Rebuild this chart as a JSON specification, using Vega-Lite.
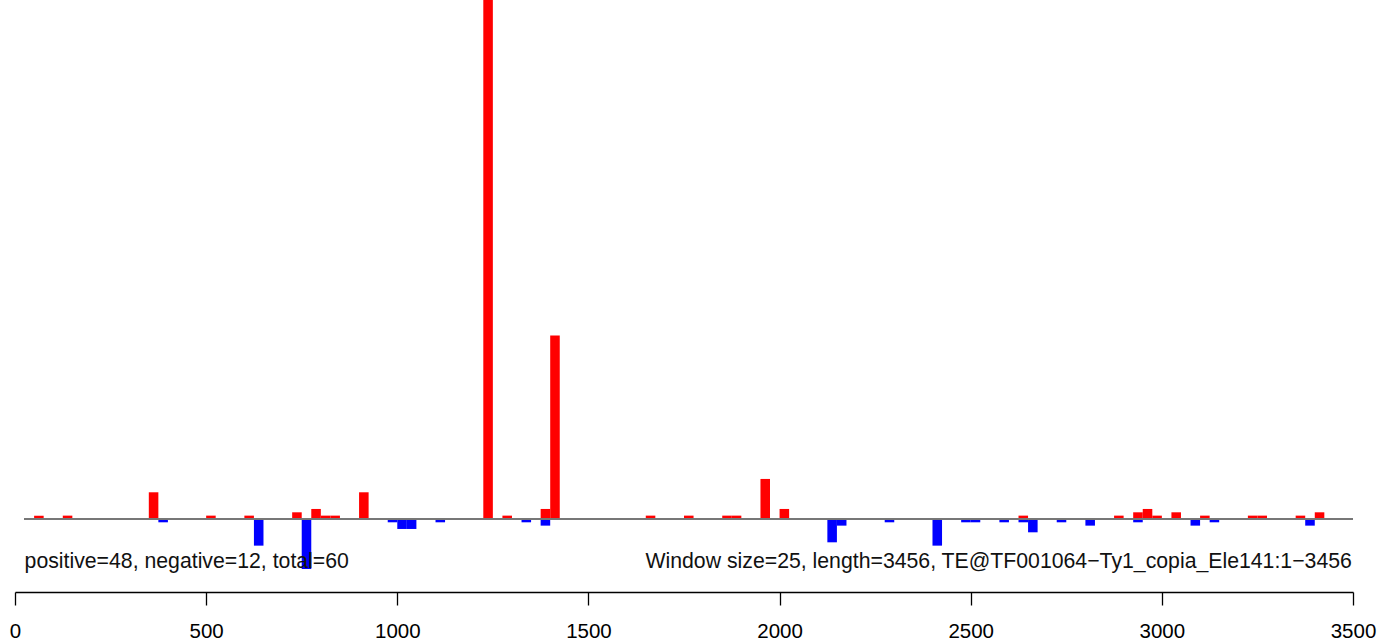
{
  "$schema": "https://vega.github.io/schema/vega-lite/v6.json",
  "width": 1338,
  "height": 579,
  "autosize": {"type": "none"},
  "padding": {"left": 15, "top": 0, "right": 26, "bottom": 61},
  "background": "white",
  "config": {
    "view": {"stroke": null},
    "font": "Liberation Sans"
  },
  "datasets": {
    "bars": [
      {"start": 50, "end": 75, "count": 1, "strand": "+"},
      {"start": 125, "end": 150, "count": 1, "strand": "+"},
      {"start": 350, "end": 375, "count": 8, "strand": "+"},
      {"start": 500, "end": 525, "count": 1, "strand": "+"},
      {"start": 600, "end": 625, "count": 1, "strand": "+"},
      {"start": 725, "end": 750, "count": 2, "strand": "+"},
      {"start": 775, "end": 800, "count": 3, "strand": "+"},
      {"start": 800, "end": 825, "count": 1, "strand": "+"},
      {"start": 825, "end": 850, "count": 1, "strand": "+"},
      {"start": 900, "end": 925, "count": 8, "strand": "+"},
      {"start": 1225, "end": 1250, "count": 156, "strand": "+"},
      {"start": 1275, "end": 1300, "count": 1, "strand": "+"},
      {"start": 1375, "end": 1400, "count": 3, "strand": "+"},
      {"start": 1400, "end": 1425, "count": 55, "strand": "+"},
      {"start": 1650, "end": 1675, "count": 1, "strand": "+"},
      {"start": 1750, "end": 1775, "count": 1, "strand": "+"},
      {"start": 1850, "end": 1875, "count": 1, "strand": "+"},
      {"start": 1875, "end": 1900, "count": 1, "strand": "+"},
      {"start": 1950, "end": 1975, "count": 12, "strand": "+"},
      {"start": 2000, "end": 2025, "count": 3, "strand": "+"},
      {"start": 2625, "end": 2650, "count": 1, "strand": "+"},
      {"start": 2875, "end": 2900, "count": 1, "strand": "+"},
      {"start": 2925, "end": 2950, "count": 2, "strand": "+"},
      {"start": 2950, "end": 2975, "count": 3, "strand": "+"},
      {"start": 2975, "end": 3000, "count": 1, "strand": "+"},
      {"start": 3025, "end": 3050, "count": 2, "strand": "+"},
      {"start": 3100, "end": 3125, "count": 1, "strand": "+"},
      {"start": 3225, "end": 3250, "count": 1, "strand": "+"},
      {"start": 3250, "end": 3275, "count": 1, "strand": "+"},
      {"start": 3350, "end": 3375, "count": 1, "strand": "+"},
      {"start": 3400, "end": 3425, "count": 2, "strand": "+"},
      {"start": 375, "end": 400, "count": -1, "strand": "-"},
      {"start": 625, "end": 650, "count": -8, "strand": "-"},
      {"start": 750, "end": 775, "count": -15, "strand": "-"},
      {"start": 975, "end": 1000, "count": -1, "strand": "-"},
      {"start": 1000, "end": 1025, "count": -3, "strand": "-"},
      {"start": 1025, "end": 1050, "count": -3, "strand": "-"},
      {"start": 1100, "end": 1125, "count": -1, "strand": "-"},
      {"start": 1325, "end": 1350, "count": -1, "strand": "-"},
      {"start": 1375, "end": 1400, "count": -2, "strand": "-"},
      {"start": 2125, "end": 2150, "count": -7, "strand": "-"},
      {"start": 2150, "end": 2175, "count": -2, "strand": "-"},
      {"start": 2275, "end": 2300, "count": -1, "strand": "-"},
      {"start": 2400, "end": 2425, "count": -8, "strand": "-"},
      {"start": 2475, "end": 2500, "count": -1, "strand": "-"},
      {"start": 2500, "end": 2525, "count": -1, "strand": "-"},
      {"start": 2575, "end": 2600, "count": -1, "strand": "-"},
      {"start": 2625, "end": 2650, "count": -1, "strand": "-"},
      {"start": 2650, "end": 2675, "count": -4, "strand": "-"},
      {"start": 2725, "end": 2750, "count": -1, "strand": "-"},
      {"start": 2800, "end": 2825, "count": -2, "strand": "-"},
      {"start": 2925, "end": 2950, "count": -1, "strand": "-"},
      {"start": 3075, "end": 3100, "count": -2, "strand": "-"},
      {"start": 3125, "end": 3150, "count": -1, "strand": "-"},
      {"start": 3375, "end": 3400, "count": -2, "strand": "-"}
    ],
    "notes": [
      {"side": "left", "text": "positive=48, negative=12, total=60"},
      {"side": "right", "text": "Window size=25, length=3456, TE@TF001064−Ty1_copia_Ele141:1−3456"}
    ]
  },
  "resolve": {"scale": {"x": "shared", "y": "shared"}},
  "layer": [
    {
      "data": {"name": "bars"},
      "mark": {"type": "bar", "clip": true},
      "encoding": {
        "x": {
          "field": "start",
          "type": "quantitative",
          "scale": {"domain": [0, 3500], "nice": false, "zero": false},
          "axis": {
            "orient": "bottom",
            "values": [0, 500, 1000, 1500, 2000, 2500, 3000, 3500],
            "format": "d",
            "title": null,
            "grid": false,
            "offset": 13,
            "domainColor": "black",
            "domainWidth": 1.3,
            "tickColor": "black",
            "tickWidth": 1.3,
            "tickSize": 13,
            "labelFontSize": 20.5,
            "labelColor": "black",
            "labelPadding": 16,
            "labelFlush": false,
            "labelOverlap": false,
            "labelBound": false
          }
        },
        "x2": {"field": "end"},
        "y": {
          "field": "count",
          "type": "quantitative",
          "stack": null,
          "scale": {"domain": [-18, 155.6], "nice": false, "zero": false},
          "axis": null
        },
        "y2": {"datum": 0},
        "color": {
          "field": "strand",
          "type": "nominal",
          "scale": {"domain": ["+", "-"], "range": ["#FF0000", "#0000FF"]},
          "legend": null
        }
      }
    },
    {
      "data": {"name": "bars"},
      "mark": {"type": "rule", "color": "#777777", "strokeWidth": 1},
      "encoding": {
        "x": {"datum": 25, "type": "quantitative"},
        "x2": {"datum": 3500},
        "y": {"datum": 0, "type": "quantitative"}
      }
    },
    {
      "data": {"name": "notes"},
      "transform": [{"filter": "datum.side === 'left'"}],
      "mark": {"type": "text", "align": "left", "baseline": "alphabetic", "fontSize": 21.25, "color": "#111111"},
      "encoding": {
        "x": {"datum": 25, "type": "quantitative"},
        "y": {"datum": -14.7, "type": "quantitative"},
        "text": {"field": "text"}
      }
    },
    {
      "data": {"name": "notes"},
      "transform": [{"filter": "datum.side === 'right'"}],
      "mark": {"type": "text", "align": "right", "baseline": "alphabetic", "fontSize": 21.25, "color": "#111111"},
      "encoding": {
        "x": {"datum": 3497, "type": "quantitative"},
        "y": {"datum": -14.7, "type": "quantitative"},
        "text": {"field": "text"}
      }
    }
  ]
}
